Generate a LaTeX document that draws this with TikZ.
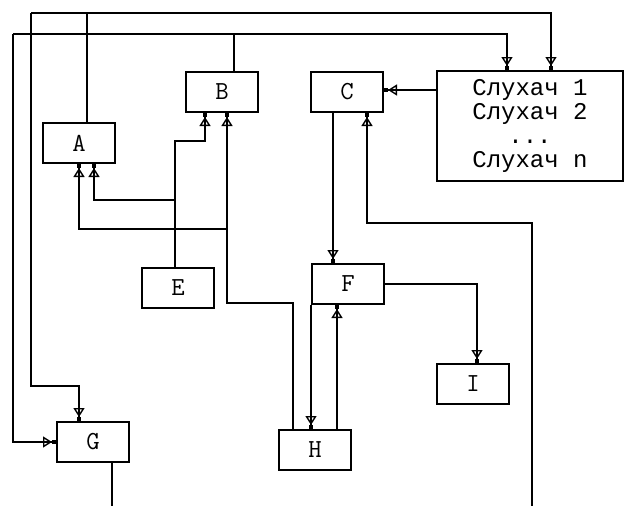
\documentclass[tikz,border=0pt]{standalone}
\usepackage{fontspec}
\setmainfont{Liberation Mono}
\usetikzlibrary{arrows.meta}
\begin{document}
\begin{tikzpicture}[x=1pt,y=-1pt,
    box/.style={draw,line width=2pt,minimum width=72pt,minimum height=40pt,inner sep=0pt,
      font=\ttfamily\fontsize{26}{26}\selectfont},
    wire/.style={line width=2pt},
    arr/.style={wire,-{Triangle[open,length=9pt,width=11pt,line width=1.4pt]Square[length=4pt,width=4pt]}}]
  \useasboundingbox (0,0) rectangle (625,506);
  \node[box] (A) at (79,143) {A};
  \node[box] (B) at (222,92) {B};
  \node[box] (C) at (347,92) {C};
  \node[box,minimum width=186pt,minimum height=110pt,align=center,
    font=\fontsize{24}{24}\selectfont] (L) at (530,126)
    {Слухач 1\\Слухач 2\\...\\Слухач n};
  \node[box] (E) at (178,288) {E};
  \node[box] (F) at (348,284) {F};
  \node[box] (G) at (93,442) {G};
  \node[box] (H) at (315,450) {H};
  \node[box] (I) at (473,384) {I};
  \coordinate (rail1) at (31,13);
  \coordinate (rail2) at (13,34);
  \coordinate (gbend) at (0,386);
  % top rails
  \draw[wire] ([xshift=8pt]A.north) |- (rail1);
  \draw[arr] ([xshift=8pt]A.north |- rail1) -| ([xshift=21pt]L.north);
  \draw[arr] (rail1) |- ([xshift=-14pt]G.north |- gbend) -- ([xshift=-14pt]G.north);
  \draw[wire] ([xshift=12pt]B.north) |- (rail2);
  \draw[arr] ([xshift=12pt]B.north |- rail2) -| ([xshift=-23pt]L.north);
  \draw[arr] (rail2) |- (G.west);
  % C and listeners
  \draw[arr] ([yshift=2pt]L.west |- C.east) -- ([yshift=2pt]C.east);
  \draw[arr] ([xshift=-14pt]C.south) -- ([xshift=-14pt]C.south |- F.north);
  \draw[arr] (532,506) -- ++(0,-283) -| ([xshift=20pt]C.south);
  % E, H into A and B
  \draw[arr] ([xshift=-3pt]E.north) -- ++(0,-126) -| ([xshift=-17pt]B.south);
  \draw[arr] ([xshift=-3pt]E.north) ++(0,-67) -| ([xshift=15pt]A.south);
  \draw[arr] ([xshift=-22pt]H.north) -- ++(0,-126) -| ([xshift=5pt]B.south);
  \draw[arr] ([xshift=5pt]B.south) ++(0,116) -| (A.south);
  % F, H, I
  \draw[arr] (F.south west) -- (F.south west |- H.north);
  \draw[arr] ([xshift=22pt]H.north) -- ([xshift=22pt]H.north |- F.south);
  \draw[arr] (F.east) -| ([xshift=4pt]I.north);
  \draw[wire] ([xshift=19pt]G.south) -- ++(0,44);
\end{tikzpicture}
\end{document}
